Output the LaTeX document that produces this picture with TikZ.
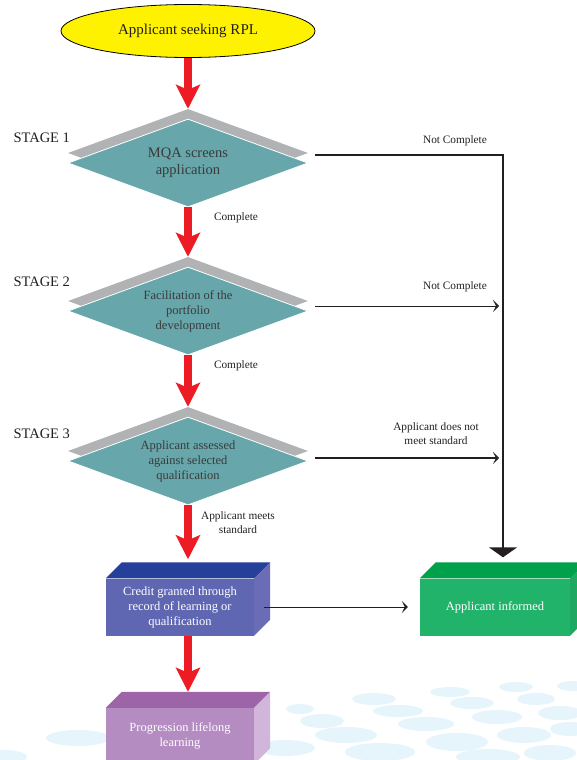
\documentclass[tikz,border=0pt]{standalone}
\usepackage{fontspec}
\setmainfont{Liberation Serif}
\usetikzlibrary{shapes.geometric,arrows.meta,calc,positioning}

\definecolor{rplyellow}{HTML}{FFF200}
\definecolor{rplred}{HTML}{ED1C24}
\definecolor{rplteal}{HTML}{67A6AB}
\definecolor{rplgray}{HTML}{B1B2B4}
\definecolor{rpltext}{HTML}{3A3A3A}
\definecolor{rplline}{HTML}{231F20}
\definecolor{creditfront}{HTML}{5F66B2}
\definecolor{credittop}{HTML}{24409A}
\definecolor{creditside}{HTML}{6A6DB5}
\definecolor{progfront}{HTML}{B48CC2}
\definecolor{progtop}{HTML}{9E64A8}
\definecolor{progside}{HTML}{D1B5DA}
\definecolor{infofront}{HTML}{22B36B}
\definecolor{infotop}{HTML}{00A14B}
\definecolor{infoside}{HTML}{1EA862}
\definecolor{dotblue}{HTML}{E6F5FB}

\tikzset{
	stagebox/.style={diamond, aspect=2.73, fill=rplteal, draw=white, line width=0.8pt, minimum width=240pt, minimum height=88pt, inner sep=0pt, align=center, text=rpltext},
	stageback/.style={diamond, aspect=2.73, fill=rplgray, minimum width=240pt, minimum height=88pt, inner sep=0pt},
	boxfront/.style={rectangle, minimum width=148pt, minimum height=57pt, inner sep=0pt, align=center, text=white, font=\fontsize{12.5}{15}\selectfont},
	redarrow/.style={draw=rplred, line width=8pt, -{Stealth[length=24pt,width=24pt,inset=5pt]}},
	smallarrow/.style={draw=rplline, -{Stealth[length=6pt,width=12pt,inset=3pt]}},
	labeltext/.style={align=center, text=rplline, font=\fontsize{11.3}{14}\selectfont},
	stagetext/.style={anchor=west, text=rplline, font=\fontsize{14.5}{17}\selectfont}
}

\begin{document}
\begin{tikzpicture}[x=1pt, y=-1pt]
	\useasboundingbox (0,0) rectangle (576,760);

	% background dots
	\foreach \cx/\cy/\rx/\ry in {374/699/22/6, 450/692/20/5, 516/687/17/5, 572/686/15/5, 472/703/22/6, 536/699/19/6, 398/711/25/6, 497/717/25/7, 560/713/22/7, 300/709/14/5, 322/721/22/7, 426/724/28/7, 346/735/31/8, 457/742/31/9, 524/735/27/8, 570/729/20/7, 380/752/35/9, 488/757/32/8, 550/753/26/8, 285/748/30/8, 78/738/32/8, 5/757/22/7, 150/752/30/8}
		\fill[dotblue] (\cx,\cy) ellipse ({\rx} and {\ry});

	\node[ellipse, draw=black, fill=rplyellow, line width=0.8pt, minimum width=254pt, minimum height=53pt, font=\fontsize{15}{18}\selectfont, text=rplline] (start) at (188,31) {Applicant seeking RPL};

	\node[stageback] (b1) at (188,153) {};
	\node[stagebox, font=\fontsize{14.5}{17}\selectfont] (d1) at (188,163) {MQA screens\\application};
	\node[stageback] (b2) at (188,301) {};
	\node[stagebox, font=\fontsize{12.5}{15}\selectfont] (d2) at (188,311) {Facilitation of the\\portfolio\\development};
	\node[stageback] (b3) at (188,451) {};
	\node[stagebox, font=\fontsize{12.5}{15}\selectfont] (d3) at (188,461) {Applicant assessed\\against selected\\qualification};

	\node[stagetext] (stage1) at (10,138) {STAGE 1};
	\node[stagetext] (stage2) at (10,282) {STAGE 2};
	\node[stagetext] (stage3) at (10,434) {STAGE 3};

	% 3d boxes
	\node[boxfront, fill=creditfront] (credit) at (180,607) {Credit granted through\\record of learning or\\qualification};
	\fill[credittop] (credit.north west) -- ++(16,-16) -- ($(credit.north east)+(16,-16)$) -- (credit.north east) -- cycle;
	\fill[creditside] (credit.north east) -- ++(16,-16) -- ($(credit.south east)+(16,-16)$) -- (credit.south east) -- cycle;
	\coordinate (credit top) at ($(credit.north)+(8,-16)$);

	\node[boxfront, fill=progfront, minimum height=56pt] (progress) at (180,736) {Progression lifelong\\learning};
	\fill[progtop] (progress.north west) -- ++(16,-16) -- ($(progress.north east)+(16,-16)$) -- (progress.north east) -- cycle;
	\fill[progside] (progress.north east) -- ++(16,-16) -- ($(progress.south east)+(16,-16)$) -- (progress.south east) -- cycle;
	\coordinate (progress top) at ($(progress.north)+(8,-16)$);

	\node[boxfront, fill=infofront, minimum width=150pt] (informed) at (495,607) {Applicant informed};
	\fill[infotop] (informed.north west) -- ++(16,-16) -- ($(informed.north east)+(16,-16)$) -- (informed.north east) -- cycle;
	\fill[infoside] (informed.north east) -- ++(16,-16) -- ($(informed.south east)+(16,-16)$) -- (informed.south east) -- cycle;
	\coordinate (informed top) at ($(informed.north)+(8,-16)$);

	% red flow
	\draw[redarrow] (start) -- (b1.north);
	\draw[redarrow] (d1) -- (b2.north);
	\draw[redarrow] (d2) -- (b3.north);
	\draw[redarrow, shorten >=3pt] (d3) -- (credit top);
	\draw[redarrow] (credit.south -| credit top) -- (progress top);

	\node[labeltext] (lab1) at (236,218) {Complete};
	\node[labeltext] (lab2) at (236,366) {Complete};
	\node[labeltext] (lab3) at (238,523) {Applicant meets\\standard};

	% not complete side
	\draw[rplline, line width=2pt, -{Triangle[length=10pt,width=28pt]}, shorten >=5pt] ($(b1.east)+(7,2)$) -| (informed top);
	\draw[smallarrow, line width=1pt, shorten >=4pt] ($(b2.east)+(7,5)$) coordinate (nc2) -- (nc2 -| informed top);
	\draw[smallarrow, line width=2pt, shorten >=4pt] ($(b3.east)+(7,7)$) coordinate (nc3) -- (nc3 -| informed top);
	\draw[smallarrow, line width=1pt, shorten >=12pt] ($(credit.east)+(10,0)$) -- (informed.west);

	\node[labeltext] (lab4) at (455,141) {Not Complete};
	\node[labeltext] (lab5) at (455,287) {Not Complete};
	\node[labeltext] (lab6) at (436,434) {Applicant does not\\meet standard};
\end{tikzpicture}
\end{document}
